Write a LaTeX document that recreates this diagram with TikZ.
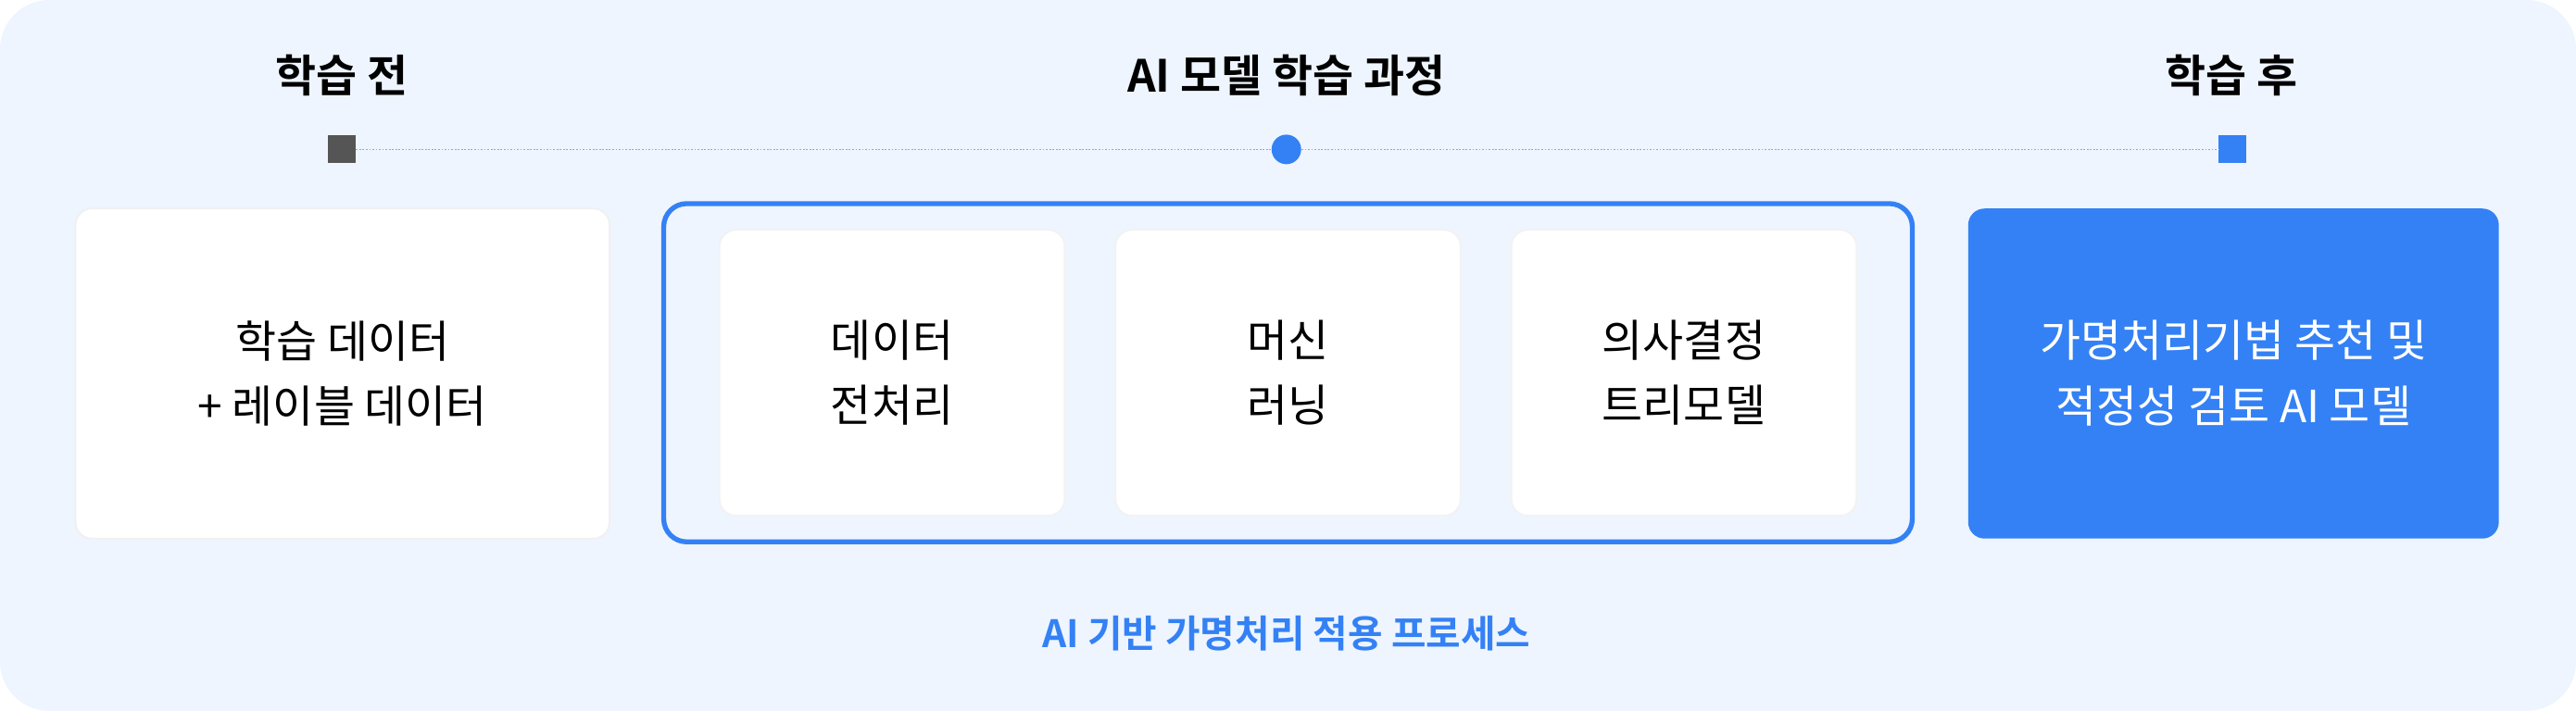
\documentclass[tikz,border=0pt]{standalone}
\usepackage{fontspec}
\setmainfont{Noto Sans CJK KR}
\newfontfamily\krbold{Noto Sans CJK KR Bold}
\definecolor{bgc}{HTML}{EEF5FE}
\definecolor{blu}{HTML}{3481F5}
\definecolor{dgr}{HTML}{555555}
\definecolor{lin}{HTML}{8FA8D8}
\begin{document}
\begin{tikzpicture}[x=1pt,y=-1pt,
  title/.style={font=\krbold\fontsize{27}{32}\selectfont,text=black},
  box/.style={rounded corners=10pt,fill=white,draw=black!6,line width=1pt,align=center,font=\fontsize{27}{40}\selectfont},
  inner/.style={rounded corners=10pt,fill=white,draw=black!5,line width=1pt,align=center,font=\fontsize{27}{40}\selectfont,minimum width=210pt,minimum height=174pt}]
\useasboundingbox (0,0) rectangle (1568,433);
\fill[bgc,rounded corners=30pt] (0,0) rectangle (1568,433);
\node[title] (t1) at (208,46) {학습 전};
\node[title] (t2) at (783,46) {AI 모델 학습 과정};
\node[title] (t3) at (1358,46) {학습 후};
\node[fill=dgr,minimum size=17pt,inner sep=0] (m1) at (208,91) {};
\node[fill=blu,circle,minimum size=18pt,inner sep=0] (m2) at (783,91) {};
\node[fill=blu,minimum size=17pt,inner sep=0] (m3) at (1359,91) {};
\draw[lin,densely dotted,line width=1pt] (m1) -- (m2);
\draw[lin,densely dotted,line width=1pt] (m2) -- (m3);
\node[box,minimum width=325pt,minimum height=201pt] (b1) at (208.5,227.5) {학습 데이터\\+ 레이블 데이터};
\node[draw=blu,line width=3pt,rounded corners=14pt,minimum width=760pt,minimum height=206pt] (grp) at (784,227) {};
\node[inner] (i1) at (543,227) {데이터\\전처리};
\node[inner] (i2) at (784,227) {머신\\러닝};
\node[inner] (i3) at (1025,227) {의사결정\\트리모델};
\node[rounded corners=10pt,fill=blu,text=white,align=center,font=\fontsize{27}{40}\selectfont,minimum width=323pt,minimum height=201pt] (b3) at (1359.5,227.5) {가명처리기법 추천 및\\적정성 검토 AI 모델};
\node[font=\krbold\fontsize{23}{28}\selectfont,text=blu] (cap) at (783,386) {AI 기반 가명처리 적용 프로세스};
\end{tikzpicture}
\end{document}
